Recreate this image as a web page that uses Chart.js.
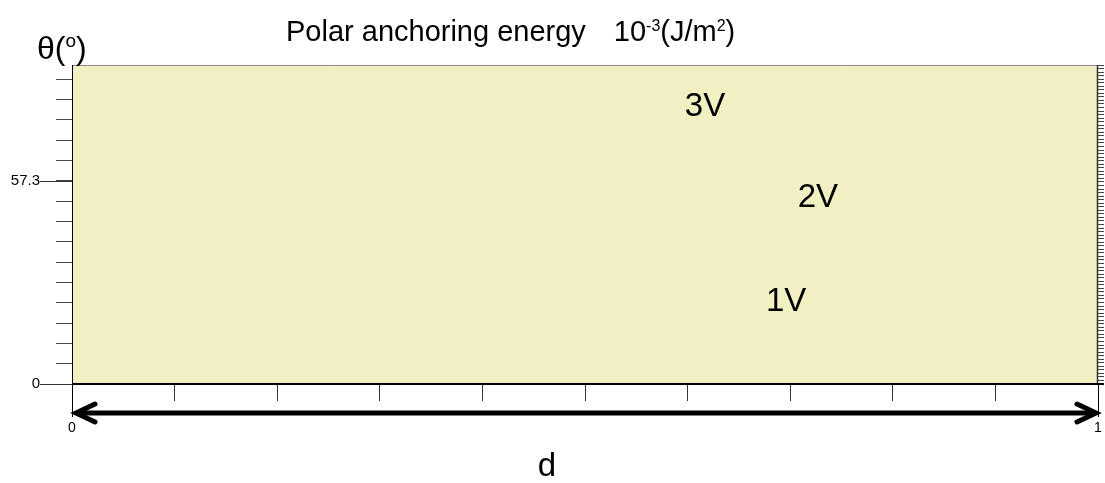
<!DOCTYPE html>
<html>
<head>
<meta charset="utf-8">
<script src="https://cdn.jsdelivr.net/npm/chart.js@4.4.1/dist/chart.umd.min.js"></script>
<style>
  body { margin: 0; background: #fff; }
</style>
</head>
<body>
<canvas id="myChart" width="1105" height="483"></canvas>
<script>
// axis ranges and ticks
const dRange = [0, 1]
const thetaRange = [0, 90]
const dTicks = [0, 0.1, 0.2, 0.3, 0.4, 0.5, 0.6, 0.7, 0.8, 0.9, 1]
const dTickLabels = ['0', '', '', '', '', '', '', '', '', '', '1']
const thetaTicks = [0, 5.73, 11.46, 17.19, 22.92, 28.65, 34.38, 40.11, 45.84, 51.57, 57.3, 63.03, 68.76, 74.49, 80.22, 85.95]
const thetaTickLabels = ['0', '', '', '', '', '', '', '', '', '', '57.3', '', '', '', '', '']
const thetaMinorStep = 1

// curve labels placed inside the plot
const curveNames = ['3V', '2V', '1V']
const curveD = [0.617, 0.727, 0.696]
const curveTheta = [78.2, 52.5, 23.1]

const plotBg = '#f1f0c3'
const fontFace = '"Liberation Sans", Arial, sans-serif'

const decorPlugin = {
  id: 'decor',
  beforeDraw(chart) {
    const { ctx, chartArea: a } = chart
    ctx.save()
    ctx.fillStyle = plotBg
    ctx.fillRect(a.left, a.top, a.right - a.left, a.bottom - a.top)
    ctx.restore()
  },
  afterDraw(chart) {
    const { ctx, chartArea: a } = chart
    const x = chart.scales.x
    const y = chart.scales.y
    ctx.save()

    // frame
    ctx.lineWidth = 1
    ctx.strokeStyle = '#8a8a8a'
    ctx.beginPath(); ctx.moveTo(a.left, a.top + 0.5); ctx.lineTo(a.right, a.top + 0.5); ctx.stroke()
    ctx.strokeStyle = '#000'
    ctx.beginPath(); ctx.moveTo(a.left + 0.5, a.top); ctx.lineTo(a.left + 0.5, a.bottom); ctx.stroke()
    ctx.strokeStyle = '#333'
    ctx.lineWidth = 1.5
    ctx.beginPath(); ctx.moveTo(a.right - 0.5, a.top); ctx.lineTo(a.right - 0.5, a.bottom); ctx.stroke()
    ctx.strokeStyle = '#000'
    ctx.lineWidth = 2
    ctx.beginPath(); ctx.moveTo(a.left, a.bottom); ctx.lineTo(a.right + 6, a.bottom); ctx.stroke()

    // longer ticks under the labelled theta values
    ctx.lineWidth = 1
    ctx.strokeStyle = '#333'
    thetaTicks.forEach((v, i) => {
      if (!thetaTickLabels[i]) return
      const py = Math.round(y.getPixelForValue(v)) + 0.5
      ctx.beginPath(); ctx.moveTo(a.left - 32, py); ctx.lineTo(a.left, py); ctx.stroke()
    })

    // end lines of the d axis
    ctx.strokeStyle = '#000'
    ;[dRange[0], dRange[1]].forEach(v => {
      const px = Math.round(x.getPixelForValue(v)) + 0.5
      ctx.beginPath(); ctx.moveTo(px, a.bottom); ctx.lineTo(px, a.bottom + 33); ctx.stroke()
    })

    // double arrow
    const ay = a.bottom + 29
    const x0 = x.getPixelForValue(dRange[0]) + 4
    const x1 = x.getPixelForValue(dRange[1]) - 2
    ctx.lineWidth = 5
    ctx.lineCap = 'round'
    ctx.lineJoin = 'miter'
    ctx.beginPath(); ctx.moveTo(x0 + 4, ay); ctx.lineTo(x1 - 4, ay); ctx.stroke()
    ctx.beginPath(); ctx.moveTo(x0 + 19, ay - 9); ctx.lineTo(x0, ay); ctx.lineTo(x0 + 19, ay + 9); ctx.stroke()
    ctx.beginPath(); ctx.moveTo(x1 - 19, ay - 9); ctx.lineTo(x1, ay); ctx.lineTo(x1 - 19, ay + 9); ctx.stroke()

    // texts
    ctx.fillStyle = '#000'
    ctx.textBaseline = 'alphabetic'
    ctx.textAlign = 'left'
    const put = (t, px, py, size) => {
      ctx.font = size + 'px ' + fontFace
      ctx.fillText(t, px, py)
      return px + ctx.measureText(t).width
    }
    let tx = put('Polar anchoring energy', 286, 41, 29)
    tx = put('10', tx + 28, 41, 29)
    tx = put('-3', tx, 31, 16)
    tx = put('(J/m', tx, 41, 29)
    tx = put('2', tx, 31, 16)
    put(')', tx, 41, 29)

    tx = put('θ(', 37, 59, 32)
    tx = put('o', tx, 47, 19)
    put(')', tx, 59, 32)

    ctx.textAlign = 'center'
    put('d', a.left + (a.right - a.left) * 0.463, 476, 33)

    ctx.textBaseline = 'middle'
    curveNames.forEach((name, i) => {
      put(name, x.getPixelForValue(curveD[i]), y.getPixelForValue(curveTheta[i]), 33)
    })
    ctx.restore()
  }
}

new Chart(document.getElementById('myChart'), {
  type: 'scatter',
  data: {
    datasets: [{
      label: 'curve labels',
      data: curveD.map((d, i) => ({ x: d, y: curveTheta[i] })),
      pointRadius: 0,
      showLine: false
    }]
  },
  options: {
    responsive: false,
    animation: false,
    events: [],
    layout: { padding: { top: 65, left: 0, right: 0, bottom: 0 } },
    plugins: { legend: { display: false }, tooltip: { enabled: false } },
    scales: {
      x: {
        type: 'linear',
        min: dRange[0],
        max: dRange[1],
        afterBuildTicks: s => { s.ticks = dTicks.map(v => ({ value: v })) },
        afterFit: s => { s.height = 99; s.paddingLeft = 0; s.paddingRight = 0 },
        border: { display: false },
        grid: { drawOnChartArea: false, drawTicks: true, tickLength: 17, color: '#333', lineWidth: 1 },
        ticks: {
          padding: 19,
          maxRotation: 0,
          autoSkip: false,
          color: '#000',
          font: { family: fontFace, size: 14 },
          callback: (v, i) => dTickLabels[i]
        }
      },
      y: {
        type: 'linear',
        position: 'left',
        min: thetaRange[0],
        max: thetaRange[1],
        afterBuildTicks: s => { s.ticks = thetaTicks.map(v => ({ value: v })) },
        afterFit: s => { s.width = 72 },
        border: { display: false },
        grid: { drawOnChartArea: false, drawTicks: true, tickLength: 16, color: '#444', lineWidth: 1 },
        ticks: {
          padding: 16,
          autoSkip: false,
          color: '#000',
          font: { family: fontFace, size: 15 },
          callback: (v, i) => thetaTickLabels[i]
        }
      },
      y2: {
        type: 'linear',
        position: 'right',
        min: thetaRange[0],
        max: thetaRange[1],
        afterFit: s => { s.width = 7 },
        border: { display: false },
        grid: { drawOnChartArea: false, drawTicks: true, tickLength: 6, color: '#444', lineWidth: 1 },
        ticks: {
          stepSize: thetaMinorStep,
          autoSkip: false,
          padding: 0,
          callback: () => ''
        }
      }
    }
  },
  plugins: [decorPlugin]
})
</script>
</body>
</html>
